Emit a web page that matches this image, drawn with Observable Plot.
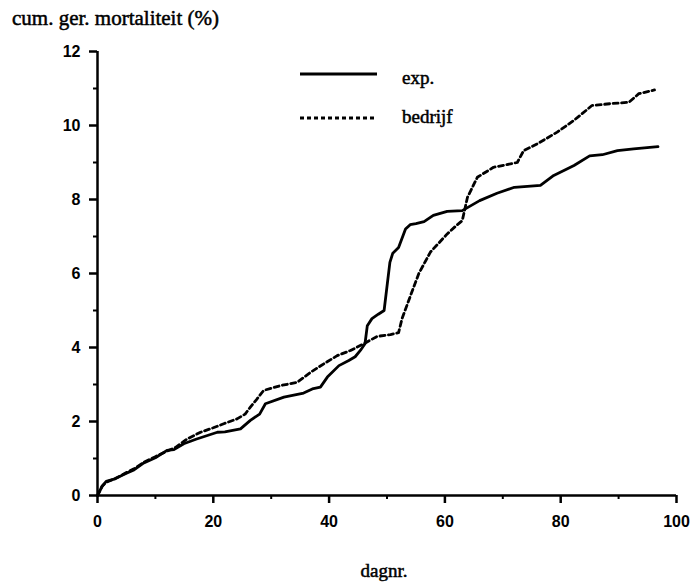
<!DOCTYPE html>
<html>
<head>
<meta charset="utf-8">
<script src="https://cdn.jsdelivr.net/npm/d3@7"></script>
<script src="https://cdn.jsdelivr.net/npm/@observablehq/plot@0.6"></script>
<style>
  html, body { margin: 0; padding: 0; background: #fff; }
  #wrap { position: relative; width: 693px; height: 583px; overflow: hidden; }
  .serif { font-family: "Liberation Serif", "DejaVu Serif", serif; color: #000; position: absolute; white-space: nowrap; line-height: 1; -webkit-text-stroke: 0.5px #000; }
</style>
</head>
<body>
<div id="wrap"></div>
<script>
// ---- data ----
const seriesNames = ["exp.", "bedrijf"];
const daysExp = [0,0.8,1.5,3,5,6.3,8,10,12,13.2,14.9,17,20.7,22,24.7,26.4,28,29,32.2,35.6,37.1,38.5,39.7,41.7,43.4,44.5,45.4,46.2,46.6,47.4,48.5,49.5,50.5,51,52,53.2,54,55,56.4,58,60.4,63,66,69,72,76.5,78.8,82.3,85,87.2,89.8,92.6,96.8];
const mortExp = [0,0.25,0.38,0.45,0.6,0.69,0.88,1.02,1.22,1.24,1.40,1.52,1.71,1.72,1.80,2.03,2.2,2.48,2.66,2.77,2.88,2.93,3.2,3.51,3.65,3.75,3.92,4.1,4.59,4.78,4.9,5.0,6.3,6.55,6.7,7.2,7.32,7.35,7.4,7.57,7.68,7.70,7.97,8.17,8.33,8.38,8.65,8.92,9.18,9.21,9.32,9.37,9.43];
const daysBedrijf = [0,0.8,1.5,3,5,6.3,8,10,12,13.5,15.5,17.8,20,21.8,24.1,25.5,26.4,27.5,28.7,31.6,34.5,36.8,39.1,41.4,43.7,46,48.3,50.6,52,52.6,54.6,55.5,57.5,60.4,62,63,63.9,65.6,68.4,72.5,73.6,75.9,79.4,82.3,85.4,88.6,91.8,93.5,96.2];
const mortBedrijf = [0,0.25,0.36,0.45,0.62,0.72,0.9,1.05,1.2,1.3,1.53,1.71,1.83,1.94,2.07,2.2,2.39,2.6,2.84,2.97,3.06,3.33,3.56,3.78,3.92,4.1,4.3,4.35,4.4,4.78,5.63,6.0,6.58,7.07,7.3,7.43,8.06,8.6,8.87,9.0,9.32,9.5,9.82,10.14,10.54,10.59,10.63,10.86,10.96];
const yMajorTicks = [0,2,4,6,8,10,12];
const yMinorTicks = [1,3,5,7,9,11];
const xMajorTicks = [0,20,40,60,80,100];
const xMinorTicks = [10,30,50,70,90];
const yTitle = "cum. ger. mortaliteit (%)";
const xTitle = "dagnr.";

const expData = daysExp.map((d, i) => ({day: d, mort: mortExp[i]}));
const bedData = daysBedrijf.map((d, i) => ({day: d, mort: mortBedrijf[i]}));

const tickFont = {fontFamily: "'Liberation Sans', Arial, sans-serif", fontWeight: "bold", fontSize: 16};

const chart = Plot.plot({
  width: 693,
  height: 583,
  marginLeft: 97,
  marginRight: 17,
  marginTop: 51,
  marginBottom: 88,
  style: {background: "#fff", color: "#000"},
  x: {domain: [0, 100]},
  y: {domain: [0, 12]},
  marks: [
    Plot.axisY({ticks: yMajorTicks, tickSize: 8, tickPadding: 9, strokeWidth: 2.5, label: null, ...tickFont, letterSpacing: "0.5px"}),
    Plot.axisY({ticks: yMinorTicks, tickSize: 4, text: null, strokeWidth: 2, label: null}),
    Plot.axisX({ticks: xMajorTicks, tickSize: 8, tickPadding: 12, strokeWidth: 2.5, label: null, ...tickFont, letterSpacing: "3px"}),
    Plot.axisX({ticks: xMinorTicks, tickSize: 4, text: null, strokeWidth: 2, label: null}),
    Plot.ruleX([0], {strokeWidth: 2.5}),
    Plot.ruleY([0], {strokeWidth: 2.5}),
    Plot.line(expData, {x: "day", y: "mort", stroke: "#000", strokeWidth: 2.8, curve: "linear"}),
    Plot.line(bedData, {x: "day", y: "mort", stroke: "#000", strokeWidth: 2.8, strokeDasharray: "5,3.5", curve: "linear"})
  ]
});

const wrap = document.getElementById("wrap");
wrap.appendChild(chart);

// titles (top = baseline - ~0.89*fontSize)
const t1 = document.createElement("div");
t1.className = "serif";
t1.style.cssText += "left:12px;top:8px;font-size:21px;";
t1.textContent = yTitle;
wrap.appendChild(t1);

const t2 = document.createElement("div");
t2.className = "serif";
t2.style.cssText += "left:384px;top:561px;transform:translateX(-50%);font-size:19px;";
t2.textContent = xTitle;
wrap.appendChild(t2);

// legend
const legendItems = [
  {name: seriesNames[0], dash: null, top: 74, base: 85},
  {name: seriesNames[1], dash: "4,3", top: 118, base: 124}
];
legendItems.forEach(it => {
  const s = d3.create("svg").attr("width", 80).attr("height", 8)
    .style("position", "absolute").style("left", "299px").style("top", (it.top - 4) + "px");
  s.append("line").attr("x1", 1).attr("x2", 78).attr("y1", 4).attr("y2", 4)
    .attr("stroke", "#000").attr("stroke-width", 2.8)
    .attr("stroke-dasharray", it.dash);
  wrap.appendChild(s.node());
  const tx = document.createElement("div");
  tx.className = "serif";
  tx.style.cssText += `left:402px;top:${it.base - 17}px;font-size:19px;`;
  tx.textContent = it.name;
  wrap.appendChild(tx);
});
</script>
</body>
</html>
